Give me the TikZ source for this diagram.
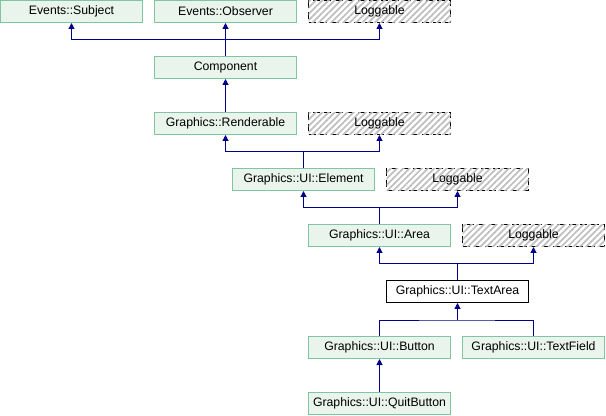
\documentclass[tikz,border=0pt]{standalone}
\usepackage{fontspec}
\setmainfont{Liberation Sans}
\usepackage{xcolor}
\usetikzlibrary{arrows.meta, patterns.meta}
\definecolor{clsfill}{RGB}{232,244,236}
\definecolor{clsline}{RGB}{128,196,160}
\definecolor{linkblue}{RGB}{0,0,139}

\begin{document}
\begin{tikzpicture}[x=0.75pt, y=-0.75pt]
   \tikzstyle{cls}=[draw=clsline, fill=clsfill, line width=0.75pt, minimum width=106.5pt, minimum height=16.5pt, inner sep=0pt, font=\fontsize{9.2}{10}\selectfont]
   \tikzstyle{cur}=[cls, draw=black, fill=white]
   \tikzstyle{ext}=[cls, draw=black, dash pattern=on 5.5pt off 3pt, fill=white, postaction={pattern={Lines[angle=45, distance=3.3pt, line width=1.3pt]}, pattern color=black!25}]
   \tikzstyle{inh}=[draw=linkblue, line width=0.75pt]
   \tikzstyle{up}=[inh, -{Triangle[length=4.5pt, width=4.5pt]}]
   \useasboundingbox (0,0) rectangle (606,416);
   %% classes
\node[cls] (subject) at (71.5,11.5) {Events::Subject};
\node[cls] (observer) at (225.5,11.5) {Events::Observer};
\node[ext] (logA) at (379.5,11.5) {Loggable};
\node[cls] (component) at (225.5,67.5) {Component};
\node[cls] (renderable) at (225.5,123.5) {Graphics::Renderable};
\node[ext] (logB) at (379.5,123.5) {Loggable};
\node[cls] (element) at (303.5,179.5) {Graphics::UI::Element};
\node[ext] (logC) at (457.5,179.5) {Loggable};
\node[cls] (area) at (379.5,235.5) {Graphics::UI::Area};
\node[ext] (logD) at (533.5,235.5) {Loggable};
\node[cur] (textarea) at (457.5,291.5) {Graphics::UI::TextArea};
\node[cls] (button) at (379.5,347.5) {Graphics::UI::Button};
\node[cls] (textfield) at (533.5,347.5) {Graphics::UI::TextField};
\node[cls] (quitbutton) at (379.5,403.5) {Graphics::UI::QuitButton};
   %% junctions
\coordinate (j1) at (225.5,40);
\coordinate (j2) at (303.5,152);
\coordinate (j3) at (379.5,208);
\coordinate (j4) at (457.5,264);
\coordinate (j5) at (457.5,320);
   %% links
 \draw[inh] (component.north) -- (j1);
 \draw[up] (j1) -| (subject.south);
 \draw[up] (j1) -- (observer.south);
 \draw[up] (j1) -| (logA.south);
 \draw[up] (renderable.north) -- (component.south);
 \draw[inh] (element.north) -- (j2);
 \draw[up] (j2) -| (renderable.south);
 \draw[up] (j2) -| (logB.south);
 \draw[inh] (area.north) -- (j3);
 \draw[up] (j3) -| (element.south);
 \draw[up] (j3) -| (logC.south);
 \draw[inh] (textarea.north) -- (j4);
 \draw[up] (j4) -| (area.south);
 \draw[up] (j4) -| (logD.south);
 \draw[inh] (button.north) |- (j5) -| (textfield.north);
 \draw[up] (j5) -- (textarea.south);
 \draw[up] (quitbutton.north) -- (button.south);
    \end{tikzpicture}
\end{document}
